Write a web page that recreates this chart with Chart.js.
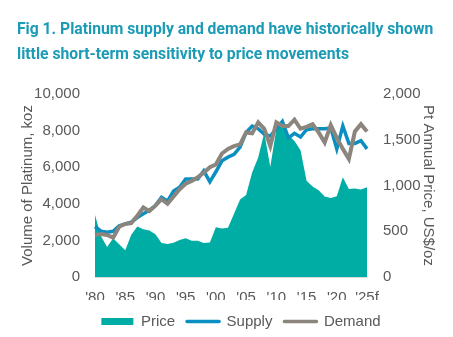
<!DOCTYPE html>
<html>
<head>
<meta charset="utf-8">
<script src="https://cdn.jsdelivr.net/npm/chart.js@4"></script>
<style>
  html, body { margin: 0; padding: 0; background: #fff; }
  #wrap { width: 453px; height: 337px; }
</style>
</head>
<body>
<div id="wrap"><canvas id="chart" width="453" height="337"></canvas></div>
<script>
const years = ['1980','1981','1982','1983','1984','1985','1986','1987','1988','1989',
  '1990','1991','1992','1993','1994','1995','1996','1997','1998','1999',
  '2000','2001','2002','2003','2004','2005','2006','2007','2008','2009',
  '2010','2011','2012','2013','2014','2015','2016','2017','2018','2019',
  '2020','2021','2022','2023','2024','2025f'];
const xTicks = ["'80", "'85", "'90", "'95", "'00", "'05", "'10", "'15", "'20", "'25f"];

// annual average price, US$/oz
const price = [677, 446, 327, 424, 357, 291, 461, 553, 523, 507,
  467, 371, 360, 374, 405, 424, 397, 395, 372, 377,
  544, 529, 539, 691, 846, 897, 1142, 1305, 1576, 1205,
  1615, 1721, 1551, 1487, 1385, 1053, 989, 949, 880, 864,
  883, 1091, 961, 966, 955, 980];

// koz
const supply = [2750, 2500, 2450, 2500, 2800, 2900, 3000, 3250, 3450, 3650,
  3900, 4350, 4150, 4700, 4900, 5350, 5350, 5350, 5800, 5200,
  5750, 6350, 6550, 6700, 7100, 7900, 8250, 8100, 7800, 7700,
  8100, 8500, 7600, 7850, 7650, 8050, 8100, 8100, 8100, 8150,
  7000, 8250, 7300, 7300, 7450, 7000];

const demand = [2300, 2350, 2300, 2150, 2750, 2900, 2950, 3350, 3800, 3600,
  3900, 4250, 4000, 4400, 4800, 5100, 5250, 5450, 5700, 6000,
  6150, 6750, 7000, 7150, 7250, 7900, 7850, 8450, 8100, 7150,
  8450, 8250, 8250, 8600, 8100, 8200, 8350, 7900, 7350, 8300,
  7600, 7000, 6450, 7950, 8350, 7950];

const titleLines = ['Fig 1. Platinum supply and demand have historically shown',
  'little short-term sensitivity to price movements'];

const grey = '#595959';
const tickFont = { family: 'Liberation Sans, Arial, sans-serif', size: 15 };

// nudge the legend row right and down a little
const legendShift = {
  id: 'legendShift',
  afterLayout(chart) {
    const lg = chart.legend;
    lg.left += 6;
    lg.right += 6;
    lg.top += 2;
    lg.bottom += 2;
  }
};

new Chart(document.getElementById('chart'), {
  type: 'line',
  data: {
    labels: years,
    datasets: [
      {
        label: 'Price',
        data: price,
        yAxisID: 'y1',
        fill: 'origin',
        backgroundColor: '#00ada5',
        borderWidth: 0,
        pointRadius: 0,
        order: 2
      },
      {
        label: 'Supply',
        data: supply,
        yAxisID: 'y',
        borderColor: '#0b8fc1',
        borderWidth: 3.5,
        pointRadius: 0,
        fill: false,
        order: 1
      },
      {
        label: 'Demand',
        data: demand,
        yAxisID: 'y',
        borderColor: '#8b857e',
        borderWidth: 4,
        pointRadius: 0,
        fill: false,
        order: 0
      }
    ]
  },
  options: {
    responsive: false,
    animation: false,
    layout: { padding: { left: 17, right: 0, top: 0, bottom: 0 } },
    plugins: {
      tooltip: { enabled: false },
      title: {
        display: true,
        text: titleLines,
        align: 'start',
        color: '#1b9bb6',
        font: { family: 'Roboto, sans-serif', size: 15.7, weight: 'bold', lineHeight: 25 / 15.7 },
        padding: { top: 18, bottom: 26 }
      },
      legend: {
        position: 'bottom',
        labels: {
          usePointStyle: true,
          pointStyleWidth: 32,
          boxHeight: 7,
          padding: 12,
          color: grey,
          font: tickFont,
          generateLabels(chart) {
            return chart.data.datasets.map((ds, i) => ({
              text: ds.label,
              datasetIndex: i,
              fillStyle: ds.backgroundColor,
              strokeStyle: ds.borderColor,
              lineWidth: i === 0 ? 0 : 3.5,
              lineCap: 'round',
              pointStyle: i === 0 ? 'rect' : 'line',
              fontColor: grey
            }));
          }
        }
      }
    },
    scales: {
      x: {
        grid: { display: false, drawTicks: false },
        border: { display: true, color: '#d9d9d9', width: 1 },
        ticks: {
          autoSkip: false,
          maxRotation: 0,
          padding: 12,
          color: grey,
          font: tickFont,
          callback: (v, i) => (i % 5 === 0 ? xTicks[i / 5] : '')
        },
        afterFit(scale) { scale.height = 23; }
      },
      y: {
        position: 'left',
        min: 0,
        max: 10000,
        grid: { display: false, drawTicks: false },
        border: { display: false },
        ticks: {
          stepSize: 2000,
          padding: 15,
          color: grey,
          font: tickFont,
          callback: v => v.toLocaleString('en-US')
        },
        title: {
          display: true,
          text: 'Volume of Platinum, koz',
          color: grey,
          font: tickFont,
          padding: { top: 2, bottom: 0 }
        },
        afterFit(scale) { scale.width = 78; }
      },
      y1: {
        position: 'right',
        min: 0,
        max: 2000,
        grid: { display: false, drawTicks: false },
        border: { display: false },
        ticks: {
          stepSize: 500,
          padding: 16,
          color: grey,
          font: tickFont,
          callback: v => v.toLocaleString('en-US')
        },
        title: {
          display: true,
          text: 'Pt Annual Price, US$/oz',
          color: grey,
          font: tickFont,
          padding: { top: 16, bottom: 0 }
        },
        afterFit(scale) { scale.width = 86; }
      }
    }
  },
  plugins: [legendShift]
});
</script>
</body>
</html>
